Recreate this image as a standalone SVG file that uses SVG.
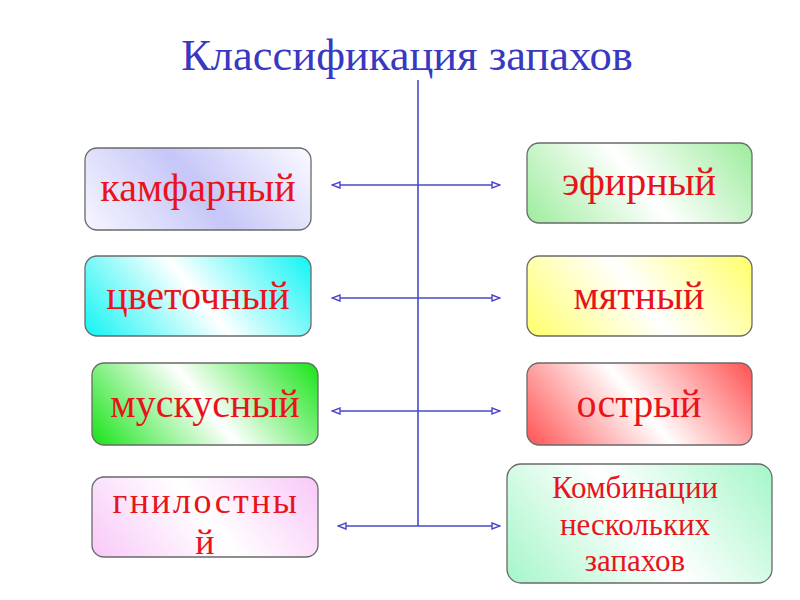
<svg xmlns="http://www.w3.org/2000/svg" width="800" height="600" viewBox="0 0 800 600">
<style>
.box{stroke:#6a6a6a;stroke-width:1.3}
.lbl{font-family:"Liberation Serif","Times New Roman",serif;fill:#e8141c;text-anchor:middle}
.big{font-size:40px}
.mid{font-size:36px}
.small{font-size:31px}
.title{font-family:"Liberation Serif","Times New Roman",serif;font-size:44.5px;fill:#3838c0;text-anchor:middle}
.conn{stroke:#4848c8;stroke-width:1.6;fill:none}
</style>
<defs>
<marker id="ah" viewBox="0 0 10 8" refX="9" refY="4" markerWidth="10" markerHeight="8" markerUnits="userSpaceOnUse" orient="auto-start-reverse">
<path d="M1,1 L9,4 L1,7 Z" fill="#ffffff" stroke="#4848c8" stroke-width="1.4"/>
</marker>
<linearGradient id="gLav" gradientUnits="userSpaceOnUse" x1="110" y1="260" x2="286" y2="118"><stop offset="0" stop-color="#f6f6ff"/><stop offset="0.5" stop-color="#c6c6f8"/><stop offset="1" stop-color="#fafaff"/></linearGradient>
<linearGradient id="gCyan" gradientUnits="userSpaceOnUse" x1="110" y1="367" x2="286" y2="225"><stop offset="0" stop-color="#10f4f4"/><stop offset="0.5" stop-color="#ffffff"/><stop offset="1" stop-color="#10f4f4"/></linearGradient>
<linearGradient id="gGreen" gradientUnits="userSpaceOnUse" x1="117" y1="475" x2="293" y2="333"><stop offset="0" stop-color="#18e418"/><stop offset="0.5" stop-color="#ffffff"/><stop offset="1" stop-color="#18e418"/></linearGradient>
<linearGradient id="gPink" gradientUnits="userSpaceOnUse" x1="117" y1="588" x2="293" y2="446"><stop offset="0" stop-color="#f8c8f8"/><stop offset="0.5" stop-color="#ffffff"/><stop offset="1" stop-color="#f8c8f8"/></linearGradient>
<linearGradient id="gLGreen" gradientUnits="userSpaceOnUse" x1="551" y1="254" x2="727" y2="112"><stop offset="0" stop-color="#9cec9c"/><stop offset="0.5" stop-color="#ffffff"/><stop offset="1" stop-color="#9cec9c"/></linearGradient>
<linearGradient id="gYel" gradientUnits="userSpaceOnUse" x1="551" y1="367" x2="727" y2="225"><stop offset="0" stop-color="#ffff6a"/><stop offset="0.5" stop-color="#ffffff"/><stop offset="1" stop-color="#ffff6a"/></linearGradient>
<linearGradient id="gRed" gradientUnits="userSpaceOnUse" x1="551" y1="475" x2="727" y2="333"><stop offset="0" stop-color="#ff5252"/><stop offset="0.5" stop-color="#ffffff"/><stop offset="1" stop-color="#ff5252"/></linearGradient>
<linearGradient id="gMint" gradientUnits="userSpaceOnUse" x1="530" y1="612" x2="749" y2="435"><stop offset="0" stop-color="#a4f6c8"/><stop offset="0.5" stop-color="#ffffff"/><stop offset="1" stop-color="#a4f6c8"/></linearGradient>
</defs>
<rect width="800" height="600" fill="#ffffff"/>
<text class="title" x="407" y="70">Классификация запахов</text>
<g id="connectors">
<line class="conn" x1="418" y1="80" x2="418" y2="526"/>
<line class="conn" x1="332" y1="185" x2="500" y2="185" marker-start="url(#ah)" marker-end="url(#ah)"/>
<line class="conn" x1="332" y1="298" x2="500" y2="298" marker-start="url(#ah)" marker-end="url(#ah)"/>
<line class="conn" x1="332" y1="411" x2="500" y2="411" marker-start="url(#ah)" marker-end="url(#ah)"/>
<line class="conn" x1="338" y1="526" x2="500" y2="526" marker-start="url(#ah)" marker-end="url(#ah)"/>
</g>
<g id="n-kamfarny"><rect class="box" x="85" y="148" width="226" height="82" rx="12" fill="url(#gLav)"/><text class="lbl big" x="198" y="201">камфарный</text></g>
<g id="n-tsvetochny"><rect class="box" x="85" y="256" width="226" height="80" rx="12" fill="url(#gCyan)"/><text class="lbl big" x="198" y="309">цветочный</text></g>
<g id="n-muskusny"><rect class="box" x="92" y="363" width="226" height="82" rx="12" fill="url(#gGreen)"/><text class="lbl big" x="205" y="417">мускусный</text></g>
<g id="n-gnilostny"><rect class="box" x="92" y="477" width="226" height="80" rx="12" fill="url(#gPink)"/><text class="lbl mid" x="206" y="513" letter-spacing="2.4">гнилостны</text><text class="lbl mid" x="205" y="554">й</text></g>
<g id="n-efirny"><rect class="box" x="527" y="143" width="225" height="80" rx="12" fill="url(#gLGreen)"/><text class="lbl big" x="639" y="195">эфирный</text></g>
<g id="n-myatny"><rect class="box" x="527" y="256" width="225" height="80" rx="12" fill="url(#gYel)"/><text class="lbl big" x="639" y="309">мятный</text></g>
<g id="n-ostry"><rect class="box" x="527" y="363" width="225" height="82" rx="12" fill="url(#gRed)"/><text class="lbl big" x="639" y="417">острый</text></g>
<g id="n-kombinatsii"><rect class="box" x="507" y="464" width="265" height="119" rx="14" fill="url(#gMint)"/><text class="lbl small" x="635" y="498">Комбинации</text><text class="lbl small" x="635" y="535">нескольких</text><text class="lbl small" x="635" y="571">запахов</text></g>
</svg>
